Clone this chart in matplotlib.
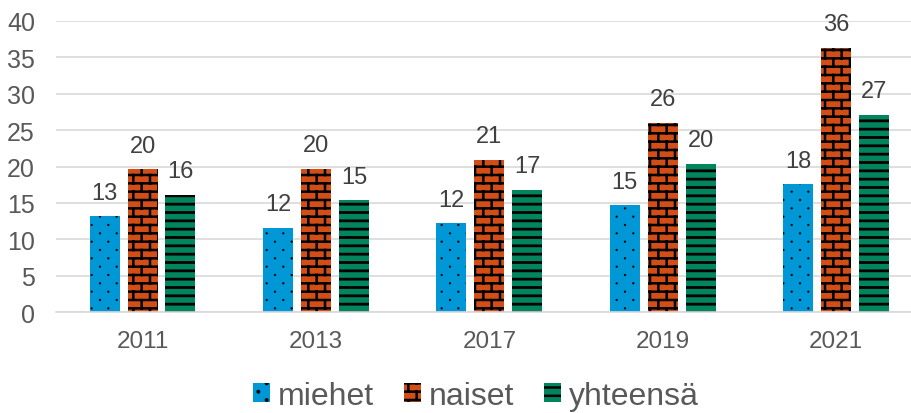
import numpy as np
import matplotlib
matplotlib.use('Agg')
import matplotlib.pyplot as plt
from matplotlib import hatch as mhatch
from matplotlib.path import Path

years = ['2011', '2013', '2017', '2019', '2021']
miehet = [13.2, 11.6, 12.2, 14.7, 17.6]
naiset = [19.6, 19.7, 20.9, 26.0, 36.3]
yhteensa = [16.1, 15.4, 16.8, 20.4, 27.1]
series_names = ['miehet', 'naiset', 'yhteensä']


class BrickHatch(mhatch.HatchPatternBase):
    # '*' -> courses of bricks, half-brick offset on every other course
    def __init__(self, hatch, density):
        rows = hatch.count('*') * density * 2
        segs = []
        if rows:
            h = 1.0 / rows
            w = 2.0 / rows
            for k in range(rows + 1):
                segs.append(((0.0, k * h), (1.0, k * h)))
            for k in range(rows):
                x0 = 0.0 if k % 2 == 0 else w / 2
                for xx in np.arange(x0, 1.0 + 1e-9, w):
                    segs.append(((xx, k * h), (xx, (k + 1) * h)))
        self.segs = segs
        self.num_vertices = 2 * len(segs)

    def set_vertices_and_codes(self, vertices, codes):
        for i, (a, b) in enumerate(self.segs):
            vertices[2 * i] = a
            vertices[2 * i + 1] = b
            codes[2 * i] = Path.MOVETO
            codes[2 * i + 1] = Path.LINETO


class DotHatch(mhatch.HatchPatternBase):
    # '.' -> sparse filled dots, staggered row to row
    radius = 0.007

    def __init__(self, hatch, density):
        rows = hatch.count('.') * density * 2
        centers = []
        if rows:
            dy = 1.0 / rows
            dx = 2.0 / rows
            for k in range(rows + 1):
                x0 = 0.0 if k % 2 == 0 else dx / 2
                for xx in np.arange(x0, 1.0 + 1e-9, dx):
                    centers.append((xx, k * dy))
        circle = Path.unit_circle()
        self.shape_vertices = circle.vertices * self.radius
        self.shape_codes = circle.codes
        self.centers = centers
        self.num_vertices = len(centers) * len(circle.vertices)

    def set_vertices_and_codes(self, vertices, codes):
        n = len(self.shape_vertices)
        for i, c in enumerate(self.centers):
            vertices[i * n:(i + 1) * n] = self.shape_vertices + c
            codes[i * n:(i + 1) * n] = self.shape_codes


mhatch._hatch_types = [mhatch.HorizontalHatch, BrickHatch, DotHatch]

plt.rcParams['font.family'] = ['Liberation Sans', 'DejaVu Sans']
plt.rcParams['hatch.linewidth'] = 1.8

colors = ['#0097D7', '#D24E16', '#00855D']
hatches = ['.', '*', '--']
hatch_lw = [0.6, 1.8, 2.0]

fig = plt.figure(figsize=(9.12, 4.14), dpi=100)
ax = fig.add_axes([0.0612, 0.2432, 0.9507, 0.7043])

x = np.arange(len(years))
width = 0.173
step = 0.219

for i, vals in enumerate([miehet, naiset, yhteensa]):
    bars = ax.bar(x + (i - 1) * step, vals, width, color=colors[i],
                  hatch=hatches[i], linewidth=0, label=series_names[i])
    for b in bars:
        if hasattr(b, 'set_hatch_linewidth'):
            b.set_hatch_linewidth(hatch_lw[i])
    ax.bar_label(bars, fmt='{:.0f}', padding=9, fontsize=17, color='#404040')

ax.set_xlim(-0.5, len(years) - 0.5)
ax.set_ylim(0, 40)
ax.set_yticks(np.arange(0, 41, 5))
ax.set_xticks(x, years)
ax.tick_params(axis='y', length=0, pad=15, labelsize=18, labelcolor='#595959')
ax.tick_params(axis='x', length=0, pad=13, labelsize=17.5, labelcolor='#595959')

ax.yaxis.grid(True, color='#D9D9D9', linewidth=1.2)
ax.set_axisbelow(True)
for side in ['top', 'right', 'left']:
    ax.spines[side].set_visible(False)
ax.spines['bottom'].set_color('#D9D9D9')
ax.spines['bottom'].set_linewidth(1.2)

handles, labels = ax.get_legend_handles_labels()
fig.legend(handles, labels, loc='center', bbox_to_anchor=(476 / 912, 1 - 397 / 414),
           ncol=3, frameon=False, fontsize=23, labelcolor='#595959',
           handlelength=0.53, handleheight=0.53, handletextpad=0.25,
           columnspacing=0.94, borderpad=0)

fig.savefig('out.png', dpi=100)
